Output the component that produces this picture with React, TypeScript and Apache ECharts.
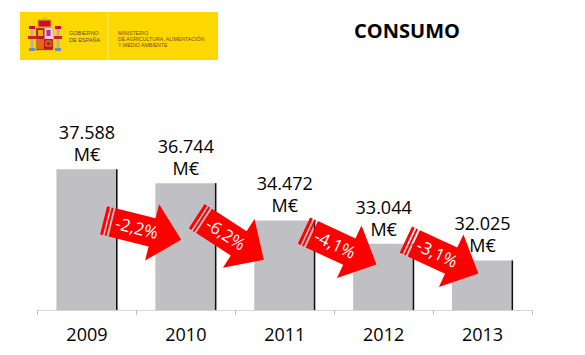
import React, { useEffect, useRef } from "react";
import * as echarts from "echarts";

// ---- data ----
const categories = ["2009", "2010", "2011", "2012", "2013"];
const consumo = [37588, 36744, 34472, 33044, 32025]; // M€
const changePct = [-2.2, -6.2, -4.1, -3.1]; // % change between consecutive years
const unitLabel = "M€";
const titleText = "CONSUMO";
const logoLeftLines = ["GOBIERNO", "DE ESPAÑA"];
const logoRightLines = ["MINISTERIO", "DE AGRICULTURA, ALIMENTACIÓN", "Y MEDIO AMBIENTE"];

// ---- layout / style constants ----
const Y_MIN = 29000;
const Y_MAX = 45000;
const FONT = "'Open Sans', 'Liberation Sans', sans-serif";
const BAR_COLOR = "#c0bfc4";
const ARROW_RED = "#ff0000";
// arrow placement (annotation layout): horizontal nudge from the category boundary (px),
// vertical anchor level (axis units), tilt (degrees, clockwise)
const ARROW_LAYOUT = [
  { dx: 6, level: 33885, angle: 14 },
  { dx: -5, level: 33397, angle: 33 },
  { dx: 6, level: 32817, angle: 25 },
  { dx: 9, level: 32267, angle: 25 },
];

const fmtThousands = (v: number) =>
  String(v).replace(/\B(?=(\d{3})+(?!\d))/g, ".");
const fmtPct = (p: number) => `${p.toFixed(1).replace(".", ",")}%`;

function buildLogo(): any[] {
  const els: any[] = [];
  // yellow band
  els.push({ type: "rect", shape: { x: 20, y: 12, width: 198, height: 48 }, style: { fill: "#fdd800" }, z: 1 });
  els.push({ type: "line", shape: { x1: 108, y1: 12, x2: 108, y2: 60 }, style: { stroke: "#fbe77a", lineWidth: 1 }, z: 2 });
  // coat of arms (simplified)
  els.push({ type: "rect", shape: { x: 30.5, y: 29, width: 3, height: 20 }, style: { fill: "#b8b0a0" }, z: 2 });
  els.push({ type: "rect", shape: { x: 56.5, y: 29, width: 3, height: 20 }, style: { fill: "#b8b0a0" }, z: 2 });
  els.push({ type: "rect", shape: { x: 29, y: 26, width: 6, height: 3 }, style: { fill: "#c8102e" }, z: 2 });
  els.push({ type: "rect", shape: { x: 55, y: 26, width: 6, height: 3 }, style: { fill: "#c8102e" }, z: 2 });
  els.push({ type: "rect", shape: { x: 29, y: 48, width: 6, height: 3 }, style: { fill: "#6f8fb0" }, z: 2 });
  els.push({ type: "rect", shape: { x: 55, y: 48, width: 6, height: 3 }, style: { fill: "#6f8fb0" }, z: 2 });
  els.push({ type: "rect", shape: { x: 28, y: 36, width: 8, height: 3 }, style: { fill: "#d21f1f" }, z: 3 });
  els.push({ type: "rect", shape: { x: 54, y: 36, width: 8, height: 3 }, style: { fill: "#d21f1f" }, z: 3 });
  els.push({ type: "rect", shape: { x: 38, y: 20, width: 13, height: 7 }, style: { fill: "#c8102e", stroke: "#e0a800", lineWidth: 1 }, z: 2 });
  els.push({ type: "circle", shape: { cx: 44.5, cy: 19, r: 1.5 }, style: { fill: "#e0a800" }, z: 3 });
  els.push({ type: "rect", shape: { x: 36, y: 28, width: 17, height: 22 }, style: { fill: "#c8102e", stroke: "#a88a20", lineWidth: 0.6 }, z: 2 });
  els.push({ type: "rect", shape: { x: 44.5, y: 28, width: 8.5, height: 11 }, style: { fill: "#f3c6d8" }, z: 3 });
  els.push({ type: "rect", shape: { x: 46.5, y: 30, width: 4, height: 6 }, style: { fill: "#9b3a8e" }, z: 4 });
  els.push({ type: "rect", shape: { x: 38, y: 30, width: 5, height: 6 }, style: { fill: "#e5b400" }, z: 4 });
  for (let k = 0; k < 4; k++) {
    els.push({ type: "rect", shape: { x: 36.5 + k * 2, y: 39, width: 1, height: 10 }, style: { fill: "#f0c400" }, z: 4 });
  }
  els.push({ type: "rect", shape: { x: 46, y: 41, width: 5, height: 5 }, style: { fill: "none", stroke: "#e5b400", lineWidth: 0.8 }, z: 4 });
  // texts
  logoLeftLines.forEach((t, i) => {
    els.push({
      type: "text", x: 69, y: 33 + i * 6.5, z: 5,
      style: { text: t, fill: "#5a4b35", fontSize: 5.5, fontFamily: "'Liberation Sans', sans-serif", align: "left", verticalAlign: "middle", textAlign: "left", textVerticalAlign: "middle" },
    });
  });
  logoRightLines.forEach((t, i) => {
    els.push({
      type: "text", x: 118, y: 32.5 + i * 6.3, z: 5,
      style: { text: t, fill: "#7a4a2a", fontSize: 5.2, fontFamily: "'Liberation Sans', sans-serif", align: "left", verticalAlign: "middle", textAlign: "left", textVerticalAlign: "middle" },
    });
  });
  // title
  els.push({
    type: "text", x: 407, y: 30, z: 5,
    style: { text: titleText, fill: "#000", fontSize: 20, fontWeight: "bold", fontFamily: FONT, align: "center", verticalAlign: "middle", textAlign: "center", textVerticalAlign: "middle" },
  });
  return els;
}

export default function App() {
  const ref = useRef<HTMLDivElement>(null);
  useEffect(() => {
    if (!ref.current) return;
    const chart = echarts.init(ref.current, undefined, { renderer: "svg" });
    const arrowData = changePct.map((p, i) => [i, ARROW_LAYOUT[i].level, p]);
    const edgeData = consumo.map((v, i) => [i, v]);
    const option: any = {
      animation: false,
      backgroundColor: "#fff",
      grid: { left: 37.5, right: 53, top: 48, bottom: 45, containLabel: false },
      xAxis: {
        type: "category",
        data: categories,
        axisLine: { show: true, lineStyle: { color: "#d6d6d6", width: 1 } },
        axisTick: { show: true, length: 5, lineStyle: { color: "#bdbdbd" } },
        axisLabel: { color: "#000", fontSize: 18, fontFamily: FONT, margin: 15 },
      },
      yAxis: {
        type: "value",
        min: Y_MIN,
        max: Y_MAX,
        show: false,
        splitLine: { show: false },
      },
      graphic: { elements: buildLogo() },
      series: [
        {
          type: "bar",
          data: consumo,
          barWidth: 61,
          itemStyle: { color: BAR_COLOR },
          label: {
            show: true,
            position: "top",
            distance: 4,
            color: "#000",
            fontSize: 18,
            lineHeight: 22,
            fontFamily: FONT,
            formatter: (p: any) => `${fmtThousands(p.value)}\n${unitLabel}`,
          },
          z: 2,
        },
        {
          type: "custom",
          data: edgeData,
          encode: { x: 0, y: 1 },
          z: 3,
          silent: true,
          renderItem: (params: any, api: any) => {
            const top = api.coord([api.value(0), api.value(1)]);
            const base = api.coord([api.value(0), Y_MIN]);
            const x = top[0] + 29.8;
            return {
              type: "line",
              shape: { x1: x, y1: top[1], x2: x, y2: base[1] },
              style: { stroke: "#111", lineWidth: 1.5 },
            };
          },
        },
        {
          type: "custom",
          data: arrowData,
          encode: { x: 0, y: 1 },
          z: 10,
          silent: true,
          renderItem: (params: any, api: any) => {
            const i = api.value(0);
            const lvl = api.value(1);
            const pct = api.value(2);
            const L = ARROW_LAYOUT[params.dataIndex];
            const c = api.coord([i, lvl]);
            const band = api.size([1, 0])[0];
            const cx = c[0] + band / 2 + L.dx;
            const cy = c[1];
            const sw = 14.5;
            const hw = 29;
            const body = [
              [-31.3, -sw], [10, -sw], [10, -hw], [40, 0], [10, hw], [10, sw], [-31.3, sw],
            ];
            return {
              type: "group",
              x: cx,
              y: cy,
              rotation: (-L.angle * Math.PI) / 180,
              children: [
                { type: "polygon", shape: { points: body }, style: { fill: ARROW_RED } },
                { type: "rect", shape: { x: -40, y: -sw, width: 3, height: sw * 2 }, style: { fill: ARROW_RED } },
                { type: "rect", shape: { x: -35.3, y: -sw, width: 2, height: sw * 2 }, style: { fill: ARROW_RED } },
                {
                  type: "text",
                  x: -6,
                  y: -1,
                  style: {
                    text: fmtPct(pct),
                    fill: "#fff",
                    fontSize: 17,
                    fontFamily: FONT,
                    align: "center",
                    verticalAlign: "middle",
                    textAlign: "center",
                    textVerticalAlign: "middle",
                  },
                },
              ],
            };
          },
        },
      ],
    };
    chart.setOption(option);
    return () => chart.dispose();
  }, []);
  return (
    <div
      ref={ref}
      style={{ position: "fixed", left: 0, top: 0, width: 585, height: 355, background: "#fff" }}
    />
  );
}
